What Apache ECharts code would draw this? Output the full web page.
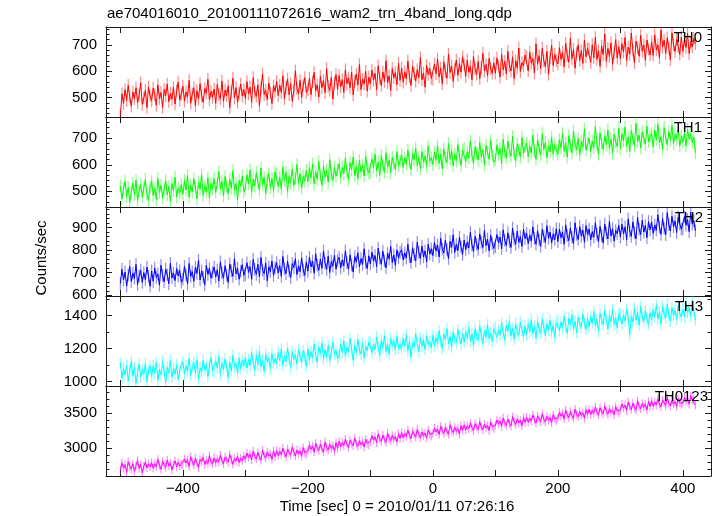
<!DOCTYPE html>
<html><head><meta charset="utf-8">
<script src="https://cdn.jsdelivr.net/npm/echarts@6/dist/echarts.min.js"></script>
<style>html,body{margin:0;padding:0;background:#fff}#c{width:717px;height:516px}</style>
</head><body><div id="c"></div>
<script>
// ---- data (1 value every 2.5 s, starting at t = -500 s) ----
const timeStart = -500, timeStep = 2.5;
const th0 = [
432,515,478,531,490,547,503,468,522,496,538,481,510,556,475,499,528,463,541,507,
489,536,512,471,549,497,520,463,531,508,552,485,517,494,540,476,526,559,491,513,
544,487,522,503,566,479,515,538,470,527,495,553,508,482,535,517,570,492,524,501,
533,478,550,512,496,563,487,529,508,545,462,521,574,499,538,483,517,552,506,531,
498,561,514,540,483,576,522,505,549,470,537,590,512,528,493,556,519,478,545,524,
562,508,547,520,583,496,539,571,511,553,487,528,602,534,515,566,501,548,576,520,
531,574,512,560,596,527,549,503,581,538,565,519,610,543,528,577,495,556,588,532,
584,541,569,520,606,553,575,538,597,511,562,590,548,626,531,570,552,600,525,578,
553,605,567,592,531,621,574,546,598,562,640,557,583,528,611,576,595,549,630,566,
612,559,598,571,639,580,547,620,591,563,607,576,652,568,594,540,622,588,611,573,
570,628,591,647,579,612,553,636,600,574,665,596,620,562,608,643,585,629,597,655,
624,581,643,597,619,568,656,608,589,637,572,615,668,601,626,583,649,610,593,632,
593,651,618,578,664,606,638,590,676,620,601,655,572,640,612,688,599,633,620,662,
655,602,673,631,648,594,704,627,660,611,687,640,618,676,589,651,699,622,664,640,
628,690,645,672,617,706,659,635,725,648,683,612,669,700,641,678,630,718,655,687,
684,634,701,652,729,645,678,619,696,663,741,638,687,656,708,627,671,720,650,693,
648,705,673,728,641,692,665,745,680,632,714,688,657,736,676,700,642,719,684,662,
712,660,738,681,700,651,757,692,718,668,727,689,643,746,701,675,722,694,664,730,
676,721,690,745,668,711,693,724,705];
const th1 = [
520,472,509,538,481,515,459,497,531,488,542,466,503,526,478,512,545,490,464,517,
537,484,512,469,548,496,523,475,508,540,487,519,461,530,502,553,479,511,494,526,
489,541,505,560,478,523,499,547,516,472,535,508,562,485,520,497,551,474,529,510,
548,496,531,574,509,537,483,556,520,491,545,512,578,503,530,468,541,519,557,499,
512,562,528,581,497,546,520,571,534,505,588,526,553,492,540,567,515,549,501,573,
566,519,553,508,591,540,572,497,559,531,584,523,548,601,530,566,512,556,538,579,
537,589,551,603,528,574,545,612,560,523,596,553,580,534,619,566,541,590,557,581,
604,552,590,567,625,576,543,608,582,629,560,595,548,617,573,600,558,632,584,569,
571,622,589,640,576,611,560,635,598,572,645,592,617,569,628,605,583,650,596,614,
638,590,626,603,655,612,581,643,619,662,597,628,586,650,610,633,594,671,615,627,
601,648,617,672,605,639,584,660,626,609,680,621,652,596,641,615,676,632,598,655,
662,611,649,626,690,637,605,668,642,618,684,630,657,599,673,645,621,692,636,610,
619,675,638,661,604,696,647,626,689,652,633,707,640,615,679,657,629,702,645,668,
681,630,669,645,712,652,620,694,663,636,717,658,685,627,672,649,703,640,676,655,
640,695,664,718,651,683,629,710,670,645,727,676,658,699,637,688,667,735,655,680,
701,650,689,665,744,678,640,721,683,658,709,676,731,662,697,644,715,686,669,738,
661,716,690,742,670,705,651,729,696,673,756,688,712,664,724,699,678,745,687,708,
718,667,731,695,752,684,706,659,740,701,676,725,693,748,680,714,697,736,671,709,
685,721,670,733,698,716,684,705,645];
const th2 = [
652,715,668,703,641,690,728,661,698,675,737,648,686,712,657,701,669,725,684,640,
708,662,721,679,695,645,733,688,660,716,691,651,742,677,699,665,719,686,710,658,
671,728,690,650,741,684,705,662,724,697,755,668,709,681,646,733,693,719,676,702,
725,681,713,663,748,699,676,731,690,657,739,708,684,762,695,720,671,706,736,688,
690,744,702,727,671,759,715,693,738,681,768,711,696,743,664,726,705,752,688,721,
745,699,732,684,772,718,696,751,708,679,740,723,762,692,730,705,766,712,688,748,
707,769,726,752,698,784,733,711,760,720,796,742,715,773,701,750,729,778,716,754,
768,721,757,730,797,744,716,779,735,703,771,748,788,726,763,737,806,745,719,775,
739,791,752,776,727,809,764,738,795,752,722,786,761,817,745,779,733,801,766,790,
802,757,788,765,826,771,744,811,779,752,835,790,763,818,770,797,748,826,783,806,
776,834,796,823,770,852,805,787,845,801,763,838,812,868,790,826,798,857,815,781,
845,801,836,810,879,822,795,861,826,803,872,835,812,887,820,849,797,866,830,808,
815,869,832,858,806,890,843,821,877,838,812,898,849,826,884,834,860,817,893,851,
875,829,866,840,903,852,826,886,845,817,892,861,834,908,853,880,832,872,846,895,
838,893,855,880,826,912,864,842,899,857,830,921,870,847,904,862,888,835,909,868,
893,845,882,858,921,870,838,905,864,832,915,876,850,928,862,895,840,887,873,910,
858,915,872,903,846,938,884,861,925,878,850,945,893,869,932,880,910,855,927,890,
925,874,911,888,957,902,870,940,897,868,966,913,885,950,904,929,878,946,915,893,
894,948,910,935,882,968,915,930,886];
const th3 = [
1115,1020,1078,1041,1099,1005,1066,1122,1033,1087,990,1058,1108,1029,1075,1046,1112,1001,1069,1094,
1032,1098,1051,1115,1009,1074,1041,1121,1063,996,1088,1052,1129,1027,1080,1047,1104,1015,1071,1099,
1121,1046,1097,1063,1142,1038,1089,1115,1054,1133,1011,1086,1058,1129,1072,1105,1030,1098,1147,1068,
1060,1127,1082,1153,1043,1111,1074,1138,1094,1025,1119,1065,1160,1088,1109,1051,1142,1079,1130,1097,
1149,1083,1136,1097,1178,1116,1068,1159,1103,1185,1091,1128,1062,1167,1122,1143,1079,1171,1110,1138,
1108,1176,1129,1198,1098,1157,1121,1206,1140,1087,1182,1135,1163,1106,1195,1148,1118,1188,1152,1092,
1199,1131,1184,1147,1228,1160,1118,1210,1172,1235,1138,1195,1153,1220,1126,1179,1241,1164,1190,1140,
1158,1230,1177,1248,1155,1208,1183,1262,1196,1129,1221,1173,1255,1192,1167,1236,1145,1214,1189,1240,
1241,1176,1228,1195,1270,1212,1160,1253,1204,1279,1183,1231,1168,1262,1218,1245,1191,1274,1202,1226,
1199,1262,1216,1283,1187,1244,1148,1236,1208,1290,1230,1181,1268,1215,1253,1195,1278,1226,1244,1205,
1281,1218,1266,1232,1308,1247,1199,1289,1255,1322,1228,1274,1210,1300,1258,1236,1315,1265,1229,1294,
1240,1305,1262,1331,1246,1289,1220,1318,1277,1254,1338,1283,1231,1309,1270,1345,1258,1297,1243,1320,
1329,1268,1316,1282,1357,1297,1252,1342,1306,1368,1277,1321,1258,1350,1303,1283,1362,1312,1274,1338,
1285,1352,1301,1376,1290,1336,1262,1364,1322,1293,1381,1330,1278,1350,1312,1372,1299,1340,1268,1359,
1371,1310,1362,1326,1398,1338,1292,1385,1347,1405,1318,1366,1297,1392,1351,1329,1410,1356,1316,1383,
1333,1395,1352,1426,1338,1381,1305,1415,1372,1347,1432,1377,1318,1402,1364,1436,1348,1390,1326,1411,
1412,1350,1403,1367,1440,1382,1285,1396,1361,1448,1373,1422,1343,1455,1392,1366,1430,1384,1348,1418,
1373,1441,1392,1466,1380,1425,1350,1458,1410,1385,1470,1404,1368,1447,1401,1432,1378,1461,1415,1392,
1440,1392,1473,1418,1450,1396,1490,1428,1372];
const th0123 = [
2690,2792,2718,2765,2655,2810,2740,2702,2781,2668,2755,2824,2712,2770,2648,2745,2801,2720,2776,2735,
2795,2715,2780,2738,2842,2752,2700,2812,2761,2729,2835,2748,2788,2690,2769,2820,2732,2801,2747,2776,
2765,2848,2790,2832,2738,2880,2805,2762,2858,2795,2722,2842,2810,2870,2768,2825,2782,2895,2808,2775,
2862,2790,2848,2805,2900,2822,2778,2876,2835,2802,2912,2840,2770,2855,2818,2884,2796,2860,2825,2890,
2845,2932,2870,2915,2832,2960,2885,2848,2942,2875,2830,2975,2895,2862,2948,2890,2920,2842,2966,2878,
2968,2895,2952,2910,3002,2925,2878,2990,2936,2902,3018,2944,2890,2975,2920,2962,2885,3010,2940,2912,
2962,3048,2985,3030,2945,3072,3002,2968,3060,2990,2948,3090,3010,2975,3055,3000,3038,2955,3080,2998,
3098,3025,3082,3040,3130,3058,3012,3115,3070,3035,3145,3062,3030,3108,3052,3092,3018,3128,3072,3045,
3095,3178,3118,3162,3080,3205,3135,3098,3188,3125,3085,3220,3142,3108,3182,3128,3165,3092,3210,3140,
3225,3150,3210,3168,3258,3185,3140,3242,3198,3160,3270,3195,3155,3232,3180,3218,3145,3262,3200,3172,
3210,3290,3232,3275,3195,3315,3250,3212,3302,3240,3200,3335,3260,3225,3298,3245,3280,3202,3326,3258,
3335,3262,3318,3278,3362,3295,3252,3350,3308,3270,3380,3302,3265,3345,3290,3328,3255,3372,3310,3282,
3325,3405,3348,3390,3312,3432,3365,3328,3418,3355,3318,3452,3375,3340,3420,3362,3398,3322,3440,3370,
3445,3372,3428,3390,3478,3405,3362,3462,3418,3380,3495,3412,3375,3455,3400,3438,3365,3480,3420,3392,
3432,3515,3458,3500,3420,3545,3475,3438,3528,3465,3428,3560,3482,3450,3525,3470,3505,3430,3552,3485,
3555,3482,3540,3500,3590,3518,3475,3578,3530,3492,3605,3525,3488,3565,3512,3548,3478,3595,3532,3505,
3548,3632,3575,3618,3540,3662,3595,3552,3645,3580,3545,3680,3600,3565,3640,3588,3625,3548,3670,3598,
3678,3602,3660,3618,3705,3635,3592,3690,3648,3610,3722,3645,3605,3685,3630,3668,3598,3712,3650,3625,
3645,3725,3668,3712,3630,3752,3690,3705,3615];
// approximate 1-sigma error bar half-length per panel (counts/sec)
const errHalf = [24, 24, 28, 35, 60];

const panelNames = ['TH0', 'TH1', 'TH2', 'TH3', 'TH0123'];
const panelSeries = [th0, th1, th2, th3, th0123];
const yMins = [427, 441, 597, 974, 2604];
const yMaxs = [768, 780, 991, 1519, 3890];
const yTickSteps = [100, 100, 100, 200, 500];
const yMinorSplits = [5, 5, 5, 2, 5];
const xMin = -523, xMax = 445, xTickStep = 200;
const titleText = 'ae704016010_20100111072616_wam2_trn_4band_long.qdp';
const xName = 'Time [sec] 0 = 2010/01/11 07:26:16';
const yName = 'Counts/sec';

// ---- styles / layout ----
const colors = ['#ff0000', '#00ff00', '#0000ff', '#00ffff', '#ff00ff'];
const gridTops = [27, 117, 207, 296, 386];
const gridHeights = [90, 90, 89, 90, 90];
const labelRight = [702, 702, 703, 703, 708];
const FONT = '"Liberation Sans", Arial, Helvetica, sans-serif';
const AX = '#1a1a1a';

function minusFmt(v) { return v < 0 ? '\u2212' + Math.abs(v) : String(v); }

const grids = [], xAxes = [], yAxes = [], series = [], graphics = [];
panelNames.forEach((name, i) => {
  grids.push({ left: 106, width: 605, top: gridTops[i], height: gridHeights[i], show: false, outerBoundsMode: 'none' });
  const isLast = i === panelNames.length - 1;
  ['bottom', 'top'].forEach((pos) => {
    xAxes.push({
      type: 'value', gridIndex: i, position: pos, min: xMin, max: xMax,
      minInterval: xTickStep, maxInterval: xTickStep, splitNumber: 5,
      axisLine: { show: true, onZero: false, lineStyle: { color: AX, width: 1 } },
      axisTick: { show: true, inside: true, length: 6, lineStyle: { color: AX } },
      minorTick: { show: true, splitNumber: 2, length: 6, lineStyle: { color: AX } },
      splitLine: { show: false }, minorSplitLine: { show: false },
      axisLabel: {
        show: isLast && pos === 'bottom', showMinLabel: false, showMaxLabel: false,
        fontSize: 15, fontFamily: FONT, color: '#000', margin: 5, formatter: minusFmt
      }
    });
  });
  ['left', 'right'].forEach((pos) => {
    yAxes.push({
      type: 'value', gridIndex: i, position: pos, min: yMins[i], max: yMaxs[i],
      minInterval: yTickSteps[i], maxInterval: yTickSteps[i], splitNumber: 4,
      axisLine: { show: true, onZero: false, lineStyle: { color: AX, width: 1 } },
      axisTick: { show: true, inside: true, length: 6, lineStyle: { color: AX } },
      minorTick: { show: true, splitNumber: yMinorSplits[i], length: 3.5, lineStyle: { color: AX } },
      splitLine: { show: false }, minorSplitLine: { show: false },
      axisLabel: {
        show: pos === 'left', showMinLabel: false, showMaxLabel: false,
        fontSize: 15, fontFamily: FONT, color: '#000', margin: 9,
        formatter: (v) => String(v)
      }
    });
  });
  const pts = panelSeries[i].map((v, k) => [timeStart + k * timeStep, v, errHalf[i]]);
  const col = colors[i];
  series.push({
    type: 'custom', xAxisIndex: 2 * i, yAxisIndex: 2 * i, data: pts, clip: true,
    silent: true, animation: false, z: 1,
    encode: { x: 0, y: 1 },
    renderItem: (params, api) => {
      const x = api.value(0), y = api.value(1), e = api.value(2);
      const p1 = api.coord([x, y - e]), p2 = api.coord([x, y + e]);
      return { type: 'line', shape: { x1: p1[0], y1: p1[1], x2: p2[0], y2: p2[1] },
        style: { stroke: col, lineWidth: 1.2, opacity: 0.45 } };
    }
  });
  series.push({
    type: 'line', xAxisIndex: 2 * i, yAxisIndex: 2 * i, data: pts.map(p => [p[0], p[1]]),
    showSymbol: false, symbol: 'none', silent: true, animation: false, sampling: null,
    lineStyle: { color: col, width: 1 }, z: 2
  });
  graphics.push({
    type: 'text', right: 717 - labelRight[i], top: gridTops[i] + 3, z: 10,
    style: { text: name, font: '15px ' + FONT, fill: '#000' }
  });
});

graphics.push({ type: 'text', left: 107, top: 6,
  style: { text: titleText, font: '15px ' + FONT, fill: '#000' } });
graphics.push({ type: 'text', x: 397, y: 507,
  style: { text: xName, font: '15px ' + FONT, fill: '#000', align: 'center', verticalAlign: 'middle' } });
graphics.push({ type: 'text', x: 42, y: 258, rotation: Math.PI / 2,
  style: { text: yName, font: '15px ' + FONT, fill: '#000', align: 'center', verticalAlign: 'middle' } });

const chart = echarts.init(document.getElementById('c'), null, { renderer: 'canvas' });
chart.setOption({
  backgroundColor: '#fff', animation: false,
  grid: grids, xAxis: xAxes, yAxis: yAxes, series: series, graphic: graphics
});
</script></body></html>
